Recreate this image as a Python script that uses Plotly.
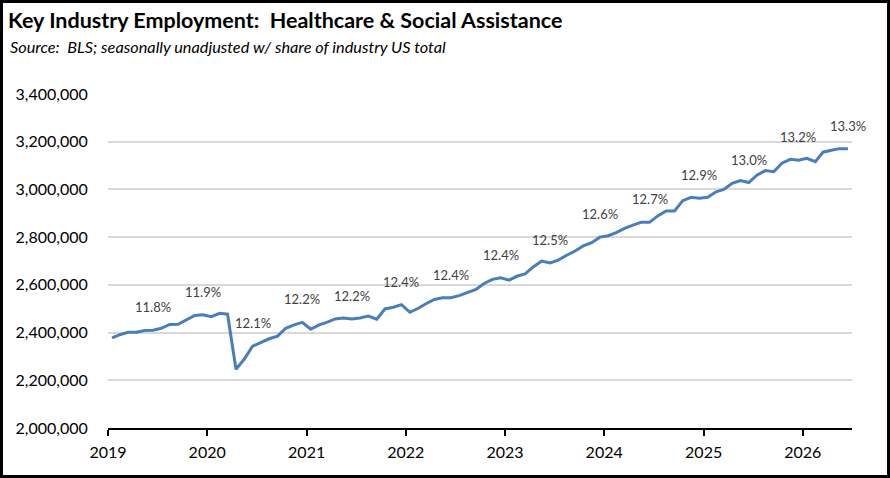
import plotly.graph_objects as go
import pandas as pd

# monthly employment, Jan 2019 - Jun 2026
employment = [
    2378000, 2392000, 2401000, 2401000, 2409000, 2410000, 2418000, 2434000, 2435000, 2455000, 2472000, 2475000,
    2467000, 2481000, 2477000, 2246000, 2288000, 2343000, 2358000, 2374000, 2385000, 2418000, 2432000, 2443000,
    2414000, 2432000, 2443000, 2457000, 2461000, 2457000, 2461000, 2469000, 2456000, 2499000, 2506000, 2517000,
    2485000, 2502000, 2521000, 2539000, 2546000, 2546000, 2555000, 2567000, 2581000, 2606000, 2623000, 2630000,
    2620000, 2637000, 2646000, 2676000, 2700000, 2692000, 2704000, 2724000, 2742000, 2763000, 2777000, 2800000,
    2806000, 2820000, 2837000, 2850000, 2862000, 2862000, 2889000, 2910000, 2910000, 2953000, 2967000, 2963000,
    2967000, 2990000, 3000000, 3026000, 3037000, 3029000, 3060000, 3079000, 3074000, 3110000, 3126000, 3122000,
    3130000, 3116000, 3156000, 3164000, 3171000, 3171000,
]
months = pd.date_range("2019-01-01", periods=len(employment), freq="MS")

# share of US industry total, shown every June and December
share_labels = ["11.8%", "11.9%", "12.1%", "12.2%", "12.2%", "12.4%", "12.4%", "12.4%",
                "12.5%", "12.6%", "12.7%", "12.9%", "13.0%", "13.2%", "13.3%"]

y_ticks = [2000000, 2200000, 2400000, 2600000, 2800000, 3000000, 3200000, 3400000]
year_ticks = [str(y) for y in range(2019, 2027)]

W, H = 890, 478
ML, MR, MT, MB = 108, 38, 94, 50
PW, PH = W - ML - MR, H - MT - MB

# points sit in the middle of each month
x = months + pd.Timedelta(days=15)
x_range = [months[0], months[-1] + pd.offsets.MonthBegin(1)]

fig = go.Figure()
fig.add_trace(go.Scatter(
    x=x, y=employment, mode="lines",
    line=dict(color="#4a7ebb", width=3),
    hoverinfo="x+y", showlegend=False,
))

label_pos = [i for i, m in enumerate(months) if m.month in (6, 12)]
for lab, i in zip(share_labels, label_pos):
    fig.add_annotation(x=x[i], y=employment[i], text=lab, showarrow=False,
                       yshift=23, font=dict(family="Lato", size=13, color="#404040"))

# subtitle
fig.add_annotation(xref="paper", yref="paper", x=(8 - ML) / PW, y=1 + (MT - 47) / PH,
                   xanchor="left", yanchor="middle", showarrow=False,
                   text="<i>Source:  BLS; seasonally unadjusted w/ share of industry US total</i>",
                   font=dict(family="Lato", size=16.3, color="#000000"))

# outer black frame
fig.add_shape(type="rect", xref="paper", yref="paper",
              x0=(1.5 - ML) / PW, x1=(W - 1.5 - ML) / PW,
              y0=-(MB - 1.5) / PH, y1=1 + (MT - 1.5) / PH,
              line=dict(color="#000000", width=3))

fig.update_layout(
    width=W, height=H,
    margin=dict(l=ML, r=MR, t=MT, b=MB),
    paper_bgcolor="white", plot_bgcolor="white",
    title=dict(text="<b>Key Industry Employment:  Healthcare & Social Assistance</b>",
               x=8 / W, xanchor="left", y=1 - 20 / H, yanchor="middle",
               font=dict(family="Lato", size=21.5, color="#000000")),
    xaxis=dict(type="date", range=x_range,
               tickvals=[pd.Timestamp(f"{y}-01-01") for y in year_ticks], ticktext=year_ticks,
               showgrid=False, zeroline=False,
               showline=True, linecolor="#000000", linewidth=2,
               ticks="outside", ticklen=6, tickwidth=2, tickcolor="#000000",
               ticklabelstandoff=3,
               tickfont=dict(family="Lato", size=16, color="#000000")),
    xaxis2=dict(type="date", range=x_range, overlaying="x",
                tickvals=[pd.Timestamp(f"{y}-01-01") for y in year_ticks],
                showgrid=False, zeroline=False, showline=False, showticklabels=False,
                ticks="inside", ticklen=6, tickwidth=2, tickcolor="#000000"),
    yaxis=dict(range=[2000000, 3400000], tickvals=y_ticks, tickformat=",",
               showgrid=True, gridcolor="#d9d9d9", gridwidth=1.5, zeroline=False,
               showline=False, ticks="outside", ticklen=16, tickcolor="rgba(0,0,0,0)",
               tickfont=dict(family="Lato", size=16, color="#000000")),
)

fig.write_html("out.html", config={"displayModeBar": False},
               post_script="document.body.style.margin='0';")
